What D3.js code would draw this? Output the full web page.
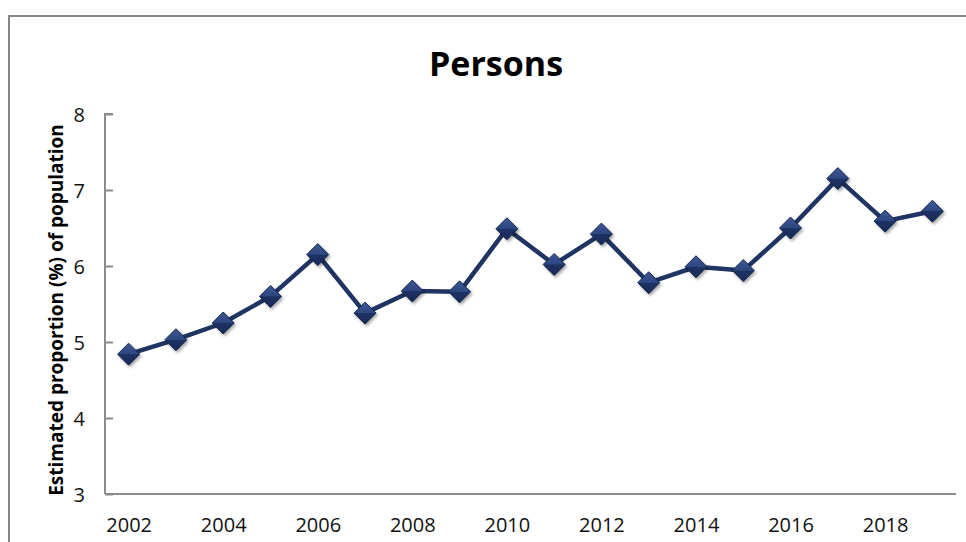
<!DOCTYPE html>
<html>
<head>
<meta charset="utf-8">
<script src="https://cdn.jsdelivr.net/npm/d3@7"></script>
<style>
  html, body { margin: 0; padding: 0; background: #fff; }
  svg { display: block; }
</style>
</head>
<body>
<svg id="chart" width="966" height="542"></svg>
<script>
// Estimated share of the population, persons, by year
const years = [2002, 2003, 2004, 2005, 2006, 2007, 2008, 2009, 2010,
               2011, 2012, 2013, 2014, 2015, 2016, 2017, 2018, 2019];
const values = [4.84, 5.03, 5.25, 5.60, 6.15, 5.38, 5.67, 5.66, 6.49,
                6.02, 6.42, 5.78, 5.99, 5.94, 6.50, 7.15, 6.59, 6.72];
const yTicks = [3, 4, 5, 6, 7, 8];
const xTickYears = [2002, 2004, 2006, 2008, 2010, 2012, 2014, 2016, 2018];
const titleText = "Persons";
const yAxisTitle = "Estimated proportion  (%) of population";

const W = 966, H = 542;
const plot = { left: 105, right: 956, top: 114, bottom: 494 };
const FONT = "'Open Sans', 'Noto Sans', sans-serif";

const svg = d3.select("#chart");
const defs = svg.append("defs");

// soft drop shadow under markers
const shadow = defs.append("filter").attr("id", "mshadow")
  .attr("x", "-50%").attr("y", "-50%").attr("width", "200%").attr("height", "200%");
shadow.append("feDropShadow").attr("dx", 1.5).attr("dy", 2).attr("stdDeviation", 1.6)
  .attr("flood-color", "#000").attr("flood-opacity", 0.35);

// bevelled fill for diamonds: lighter upper half, darker lower half
const grad = defs.append("linearGradient").attr("id", "diamondFill")
  .attr("x1", 0).attr("y1", 0).attr("x2", 0).attr("y2", 1);
grad.append("stop").attr("offset", "0%").attr("stop-color", "#3d5a95");
grad.append("stop").attr("offset", "49%").attr("stop-color", "#2c4680");
grad.append("stop").attr("offset", "51%").attr("stop-color", "#1d3264");
grad.append("stop").attr("offset", "100%").attr("stop-color", "#182a55");

// outer chart frame
svg.append("rect")
  .attr("x", 9).attr("y", 16).attr("width", W + 20).attr("height", H + 20)
  .attr("fill", "none").attr("stroke", "#868686").attr("stroke-width", 2);

const x = d3.scalePoint().domain(years)
  .range([plot.left, plot.right]).padding(0.5);
const y = d3.scaleLinear().domain([3, 8]).range([plot.bottom, plot.top]);

// y axis: ticks pointing into the plot
const yAxis = d3.axisRight(y).tickValues(yTicks).tickSize(8).tickFormat(d3.format("d"));
const gy = svg.append("g").attr("transform", `translate(${plot.left},0)`).call(yAxis);
gy.select(".domain").attr("stroke", "#8c8c8c").attr("stroke-width", 2)
  .attr("d", `M${8},${plot.top}H0V${plot.bottom}`);
gy.selectAll(".tick line").attr("stroke", "#8c8c8c").attr("stroke-width", 2);
gy.selectAll(".tick text")
  .attr("x", -20).attr("text-anchor", "end").attr("dy", "0.36em")
  .attr("fill", "#111")
  .style("font-family", FONT)
  .style("font-size", "20px");

// x axis: line only, labels every other year
const xAxis = d3.axisBottom(x).tickValues(xTickYears).tickSize(0).tickFormat(d3.format("d"));
const gx = svg.append("g").attr("transform", `translate(0,${plot.bottom})`).call(xAxis);
gx.select(".domain").attr("stroke", "#8c8c8c").attr("stroke-width", 2)
  .attr("d", `M${plot.left},0H${plot.right}`);
gx.selectAll(".tick text")
  .attr("y", 38).attr("dy", 0)
  .attr("fill", "#111")
  .style("font-family", FONT)
  .style("font-size", "20px");

// title
svg.append("text")
  .attr("x", 496).attr("y", 76)
  .attr("text-anchor", "middle")
  .attr("fill", "#000")
  .style("font-family", FONT)
  .style("font-weight", "bold")
  .style("font-size", "34px")
  .text(titleText);

// y axis title
svg.append("text")
  .attr("transform", `translate(63,${(125 + 495) / 2}) rotate(-90)`)
  .attr("text-anchor", "middle")
  .attr("fill", "#000")
  .style("font-family", FONT)
  .style("font-weight", "bold")
  .style("font-size", "19px")
  .text(yAxisTitle);

// series line
const pts = years.map((yr, i) => ({ yr, v: values[i] }));
const line = d3.line().x(d => x(d.yr)).y(d => y(d.v));
svg.append("path")
  .datum(pts)
  .attr("d", line)
  .attr("fill", "none")
  .attr("stroke", "#1f3462")
  .attr("stroke-width", 4.5)
  .attr("stroke-linejoin", "round");

// diamond markers
const r = 11;
const diamond = `M0,${-r}L${r},0L0,${r}L${-r},0Z`;
const mk = svg.append("g").selectAll("g.mk").data(pts).join("g")
  .attr("class", "mk")
  .attr("transform", d => `translate(${x(d.yr)},${y(d.v)})`)
  .attr("filter", "url(#mshadow)");
mk.append("path").attr("d", diamond)
  .attr("fill", "url(#diamondFill)")
  .attr("stroke", "#16274d").attr("stroke-width", 1);
</script>
</body>
</html>
